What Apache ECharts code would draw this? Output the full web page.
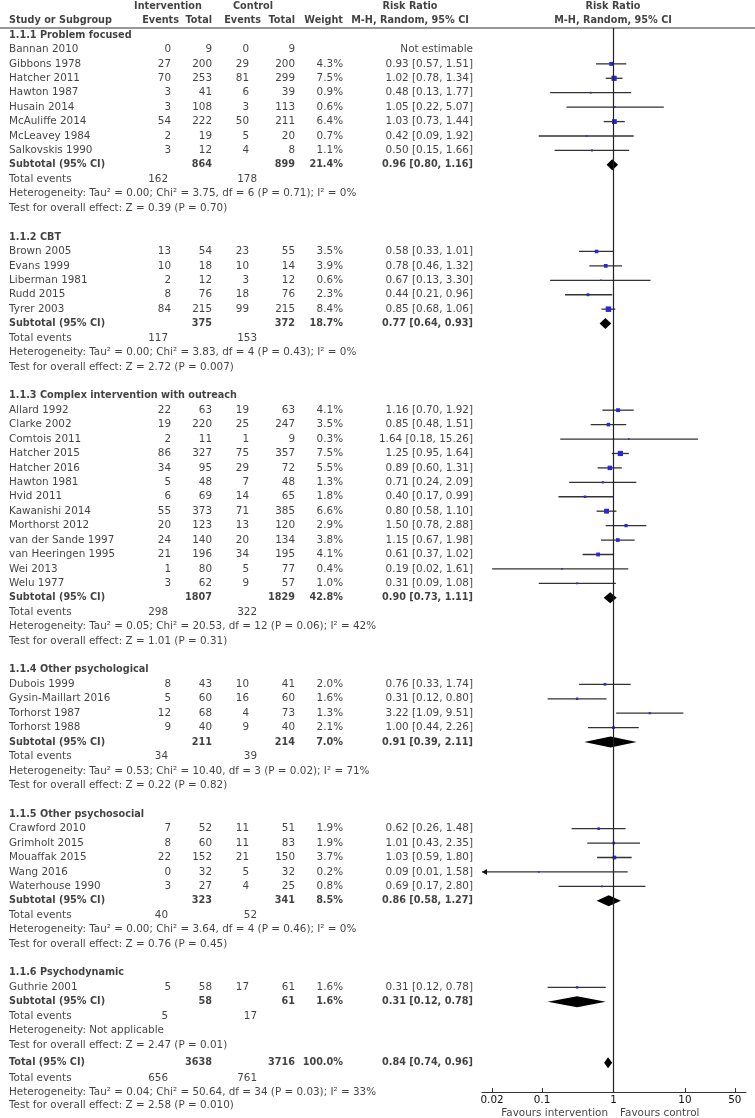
<!DOCTYPE html>
<html lang="en">
<head>
<meta charset="UTF-8">
<title>Forest plot - risk ratio</title>
<script src="https://cdn.jsdelivr.net/npm/echarts@6/dist/echarts.min.js"></script>
<style>
  html, body { margin: 0; padding: 0; background: #fff; }
  #main { width: 755px; height: 1118px; }
</style>
</head>
<body>
<div id="main"></div>
<script>
// subgroups
var groupNames = ['1.1.1 Problem focused', '1.1.2 CBT', '1.1.3 Complex intervention with outreach',
  '1.1.4 Other psychological', '1.1.5 Other psychosocial', '1.1.6 Psychodynamic'];
var groupSizes = [8, 5, 13, 4, 5, 1];

// studies
var studyNames = ['Bannan 2010', 'Gibbons 1978', 'Hatcher 2011', 'Hawton 1987', 'Husain 2014', 'McAuliffe 2014', 'McLeavey 1984', 'Salkovskis 1990',
  'Brown 2005', 'Evans 1999', 'Liberman 1981', 'Rudd 2015', 'Tyrer 2003',
  'Allard 1992', 'Clarke 2002', 'Comtois 2011', 'Hatcher 2015', 'Hatcher 2016', 'Hawton 1981', 'Hvid 2011', 'Kawanishi 2014', 'Morthorst 2012', 'van der Sande 1997', 'van Heeringen 1995', 'Wei 2013', 'Welu 1977',
  'Dubois 1999', 'Gysin-Maillart 2016', 'Torhorst 1987', 'Torhorst 1988',
  'Crawford 2010', 'Grimholt 2015', 'Mouaffak 2015', 'Wang 2016', 'Waterhouse 1990',
  'Guthrie 2001'];
var intEvents = [0, 27, 70, 3, 3, 54, 2, 3, 13, 10, 2, 8, 84, 22, 19, 2, 86, 34, 5, 6, 55, 20, 24, 21, 1, 3, 8, 5, 12, 9, 7, 8, 22, 0, 3, 5];
var intTotal = [9, 200, 253, 41, 108, 222, 19, 12, 54, 18, 12, 76, 215, 63, 220, 11, 327, 95, 48, 69, 373, 123, 140, 196, 80, 62, 43, 60, 68, 40, 52, 60, 152, 32, 27, 58];
var ctlEvents = [0, 29, 81, 6, 3, 50, 5, 4, 23, 10, 3, 18, 99, 19, 25, 1, 75, 29, 7, 14, 71, 13, 20, 34, 5, 9, 10, 16, 4, 9, 11, 11, 21, 5, 4, 17];
var ctlTotal = [9, 200, 299, 39, 113, 211, 20, 8, 55, 14, 12, 76, 215, 63, 247, 9, 357, 72, 48, 65, 385, 120, 134, 195, 77, 57, 41, 60, 73, 40, 51, 83, 150, 32, 25, 61];
var weights = [null, 4.3, 7.5, 0.9, 0.6, 6.4, 0.7, 1.1, 3.5, 3.9, 0.6, 2.3, 8.4, 4.1, 3.5, 0.3, 7.5, 5.5, 1.3, 1.8, 6.6, 2.9, 3.8, 4.1, 0.4, 1.0, 2.0, 1.6, 1.3, 2.1, 1.9, 1.9, 3.7, 0.2, 0.8, 1.6];
var rr = [null, 0.93, 1.02, 0.48, 1.05, 1.03, 0.42, 0.50, 0.58, 0.78, 0.67, 0.44, 0.85, 1.16, 0.85, 1.64, 1.25, 0.89, 0.71, 0.40, 0.80, 1.50, 1.15, 0.61, 0.19, 0.31, 0.76, 0.31, 3.22, 1.00, 0.62, 1.01, 1.03, 0.09, 0.69, 0.31];
var ciLow = [null, 0.57, 0.78, 0.13, 0.22, 0.73, 0.09, 0.15, 0.33, 0.46, 0.13, 0.21, 0.68, 0.70, 0.48, 0.18, 0.95, 0.60, 0.24, 0.17, 0.58, 0.78, 0.67, 0.37, 0.02, 0.09, 0.33, 0.12, 1.09, 0.44, 0.26, 0.43, 0.59, 0.01, 0.17, 0.12];
var ciHigh = [null, 1.51, 1.34, 1.77, 5.07, 1.44, 1.92, 1.66, 1.01, 1.32, 3.30, 0.96, 1.06, 1.92, 1.51, 15.26, 1.64, 1.31, 2.09, 0.99, 1.10, 2.88, 1.98, 1.02, 1.61, 1.08, 1.74, 0.80, 9.51, 2.26, 1.48, 2.35, 1.80, 1.58, 2.80, 0.78];

// subtotals
var subIntTotal = [864, 375, 1807, 211, 323, 58];
var subCtlTotal = [899, 372, 1829, 214, 341, 61];
var subWeight = [21.4, 18.7, 42.8, 7.0, 8.5, 1.6];
var subRR = [0.96, 0.77, 0.90, 0.91, 0.86, 0.31];
var subLow = [0.80, 0.64, 0.73, 0.39, 0.58, 0.12];
var subHigh = [1.16, 0.93, 1.11, 2.11, 1.27, 0.78];
var subIntEvents = [162, 117, 298, 34, 40, 5];
var subCtlEvents = [178, 153, 322, 39, 52, 17];
var subHet = ['Tau\u00b2 = 0.00; Chi\u00b2 = 3.75, df = 6 (P = 0.71); I\u00b2 = 0%',
  'Tau\u00b2 = 0.00; Chi\u00b2 = 3.83, df = 4 (P = 0.43); I\u00b2 = 0%',
  'Tau\u00b2 = 0.05; Chi\u00b2 = 20.53, df = 12 (P = 0.06); I\u00b2 = 42%',
  'Tau\u00b2 = 0.53; Chi\u00b2 = 10.40, df = 3 (P = 0.02); I\u00b2 = 71%',
  'Tau\u00b2 = 0.00; Chi\u00b2 = 3.64, df = 4 (P = 0.46); I\u00b2 = 0%',
  'Not applicable'];
var subTest = ['Z = 0.39 (P = 0.70)', 'Z = 2.72 (P = 0.007)', 'Z = 1.01 (P = 0.31)',
  'Z = 0.22 (P = 0.82)', 'Z = 0.76 (P = 0.45)', 'Z = 2.47 (P = 0.01)'];

// overall
var totIntTotal = 3638, totCtlTotal = 3716, totWeight = 100.0;
var totRR = 0.84, totLow = 0.74, totHigh = 0.96;
var totIntEvents = 656, totCtlEvents = 761;
var totHet = 'Tau\u00b2 = 0.04; Chi\u00b2 = 50.64, df = 34 (P = 0.03); I\u00b2 = 33%';
var totTest = 'Z = 2.58 (P = 0.010)';

// axis ticks
var tickValues = [0.02, 0.1, 1, 10, 50];
var tickLabels = ['0.02', '0.1', '1', '10', '50'];

// layout (pixels)
var W = 755, H = 1118;
var ROW0 = 35, PITCH = 14.43;
var HEADER_LINE = 28, AXIS_Y = 1092;
var PLOT_LEFT = 482, PLOT_WIDTH = 264;
var X_MIN = -1.84, X_MAX = 1.855;
var COL = { name: 9, intEv: 171, intTot: 212, ctlEv: 249, ctlTot: 295, weight: 343, rr: 473, teInt: 168, teCtl: 257 };
var FONT = 'DejaVu Sans', FS = 10.4, FS_BOLD = 9.7, TXT = '#111';

function toRow(px) { return (px - ROW0) / PITCH; }
function fmtCI(e, l, h) { return e.toFixed(2) + ' [' + l.toFixed(2) + ', ' + h.toFixed(2) + ']'; }

var texts = [];
function addText(x, row, str, align, bold) {
  texts.push({
    value: [x, row],
    label: {
      show: true,
      formatter: String(str),
      position: align === 'left' ? 'right' : (align === 'right' ? 'left' : 'inside'),
      distance: 0,
      fontWeight: bold ? 'bold' : 'normal',
      fontSize: bold ? FS_BOLD : FS
    }
  });
}

// header
var h1 = toRow(6), h2 = toRow(20.5);
addText(168, h1, 'Intervention', 'center', true);
addText(253, h1, 'Control', 'center', true);
addText(410, h1, 'Risk Ratio', 'center', true);
addText(613, h1, 'Risk Ratio', 'center', true);
addText(COL.name, h2, 'Study or Subgroup', 'left', true);
addText(179, h2, 'Events', 'right', true);
addText(COL.intTot, h2, 'Total', 'right', true);
addText(261, h2, 'Events', 'right', true);
addText(COL.ctlTot, h2, 'Total', 'right', true);
addText(COL.weight, h2, 'Weight', 'right', true);
addText(410, h2, 'M-H, Random, 95% CI', 'center', true);
addText(613, h2, 'M-H, Random, 95% CI', 'center', true);

var studyData = [], diamondData = [];
var r = 0, si = 0;
groupNames.forEach(function (g, gi) {
  addText(COL.name, r, g, 'left', true);
  r++;
  for (var k = 0; k < groupSizes[gi]; k++, si++, r++) {
    addText(COL.name, r, studyNames[si], 'left');
    addText(COL.intEv, r, intEvents[si], 'right');
    addText(COL.intTot, r, intTotal[si], 'right');
    addText(COL.ctlEv, r, ctlEvents[si], 'right');
    addText(COL.ctlTot, r, ctlTotal[si], 'right');
    if (weights[si] == null) {
      addText(COL.rr, r, 'Not estimable', 'right');
    } else {
      addText(COL.weight, r, weights[si].toFixed(1) + '%', 'right');
      addText(COL.rr, r, fmtCI(rr[si], ciLow[si], ciHigh[si]), 'right');
      studyData.push([Math.log10(rr[si]), Math.log10(ciLow[si]), Math.log10(ciHigh[si]), r, weights[si]]);
    }
  }
  addText(COL.name, r, 'Subtotal (95% CI)', 'left', true);
  addText(COL.intTot, r, subIntTotal[gi], 'right', true);
  addText(COL.ctlTot, r, subCtlTotal[gi], 'right', true);
  addText(COL.weight, r, subWeight[gi].toFixed(1) + '%', 'right', true);
  addText(COL.rr, r, fmtCI(subRR[gi], subLow[gi], subHigh[gi]), 'right', true);
  diamondData.push([Math.log10(subRR[gi]), Math.log10(subLow[gi]), Math.log10(subHigh[gi]), r]);
  r++;
  addText(COL.name, r, 'Total events', 'left');
  addText(COL.teInt, r, subIntEvents[gi], 'right');
  addText(COL.teCtl, r, subCtlEvents[gi], 'right');
  r++;
  addText(COL.name, r, 'Heterogeneity: ' + subHet[gi], 'left');
  r++;
  addText(COL.name, r, 'Test for overall effect: ' + subTest[gi], 'left');
  r += 2;
});

// overall block follows a shorter gap
r = r - 1 + 0.22;
addText(COL.name, r, 'Total (95% CI)', 'left', true);
addText(COL.intTot, r, totIntTotal, 'right', true);
addText(COL.ctlTot, r, totCtlTotal, 'right', true);
addText(COL.weight, r, totWeight.toFixed(1) + '%', 'right', true);
addText(COL.rr, r, fmtCI(totRR, totLow, totHigh), 'right', true);
diamondData.push([Math.log10(totRR), Math.log10(totLow), Math.log10(totHigh), r]);
addText(COL.name, r + 1.1, 'Total events', 'left');
addText(COL.teInt, r + 1.1, totIntEvents, 'right');
addText(COL.teCtl, r + 1.1, totCtlEvents, 'right');
addText(COL.name, r + 2.05, 'Heterogeneity: ' + totHet, 'left');
addText(COL.name, r + 2.98, 'Test for overall effect: ' + totTest, 'left');

addText(608, toRow(1113), 'Favours intervention', 'right');
addText(620, toRow(1113), 'Favours control', 'left');

function renderStudy(params, api) {
  var row = api.value(3), w = api.value(4);
  var pE = api.coord([api.value(0), row]);
  var pL = api.coord([api.value(1), row]);
  var pH = api.coord([api.value(2), row]);
  var xMin = api.coord([X_MIN, row])[0], xMax = api.coord([X_MAX, row])[0];
  var y = pE[1];
  var x1 = Math.max(pL[0], xMin), x2 = Math.min(pH[0], xMax);
  var s = Math.max(1.6, Math.sqrt(w) * 1.9);
  var kids = [
    { type: 'line', shape: { x1: x1, y1: y, x2: x2, y2: y }, style: { stroke: '#333', lineWidth: 1.3 } },
    { type: 'rect', shape: { x: pE[0] - s / 2, y: y - s / 2, width: s, height: s }, style: { fill: '#2a2ad2' } }
  ];
  if (pL[0] < xMin) {
    kids.push({ type: 'polygon', shape: { points: [[xMin, y], [xMin + 5, y - 3], [xMin + 5, y + 3]] }, style: { fill: '#111' } });
  }
  return { type: 'group', children: kids };
}

function renderDiamond(params, api) {
  var row = api.value(3);
  var pE = api.coord([api.value(0), row]);
  var pL = api.coord([api.value(1), row]);
  var pH = api.coord([api.value(2), row]);
  var hh = 5.5;
  return {
    type: 'polygon',
    shape: { points: [[pL[0], pE[1]], [pE[0], pE[1] - hh], [pH[0], pE[1]], [pE[0], pE[1] + hh]] },
    style: { fill: '#000' }
  };
}

var chart = echarts.init(document.getElementById('main'), null, { renderer: 'canvas' });
chart.setOption({
  animation: false,
  textStyle: { fontFamily: FONT, color: TXT },
  grid: [
    { left: 0, top: 0, width: W, height: H },
    { left: PLOT_LEFT, top: HEADER_LINE, width: PLOT_WIDTH, height: AXIS_Y - HEADER_LINE }
  ],
  xAxis: [
    { gridIndex: 0, type: 'value', min: 0, max: W, show: false },
    {
      gridIndex: 1, type: 'value', min: X_MIN, max: X_MAX, position: 'bottom',
      axisLine: { show: true, onZero: false, lineStyle: { color: '#333', width: 1 } },
      axisTick: { show: true, inside: true, length: 4, lineStyle: { color: '#333' }, customValues: tickValues.map(Math.log10) },
      axisLabel: {
        show: true, fontFamily: FONT, fontSize: FS, color: TXT, margin: 3,
        customValues: tickValues.map(Math.log10),
        formatter: function (v) {
          for (var i = 0; i < tickValues.length; i++) {
            if (Math.abs(Math.log10(tickValues[i]) - v) < 1e-6) return tickLabels[i];
          }
          return '';
        }
      },
      splitLine: { show: false }
    }
  ],
  yAxis: [
    { gridIndex: 0, type: 'value', inverse: true, min: toRow(0), max: toRow(H), show: false },
    { gridIndex: 1, type: 'value', inverse: true, min: toRow(HEADER_LINE), max: toRow(AXIS_Y), show: false }
  ],
  series: [
    {
      type: 'scatter', xAxisIndex: 0, yAxisIndex: 0, symbolSize: 0, silent: true,
      label: { show: true, fontFamily: FONT, color: TXT },
      data: texts,
      markLine: {
        silent: true, symbol: 'none', label: { show: false },
        lineStyle: { color: '#777', width: 1.5, type: 'solid' },
        data: [{ yAxis: toRow(HEADER_LINE) }]
      }
    },
    {
      type: 'custom', xAxisIndex: 1, yAxisIndex: 1, renderItem: renderStudy, data: studyData, silent: true, clip: false,
      markLine: {
        silent: true, symbol: 'none', label: { show: false },
        lineStyle: { color: '#222', width: 1.2, type: 'solid' },
        data: [{ xAxis: 0 }]
      }
    },
    { type: 'custom', xAxisIndex: 1, yAxisIndex: 1, renderItem: renderDiamond, data: diamondData, silent: true }
  ]
});
</script>
</body>
</html>
